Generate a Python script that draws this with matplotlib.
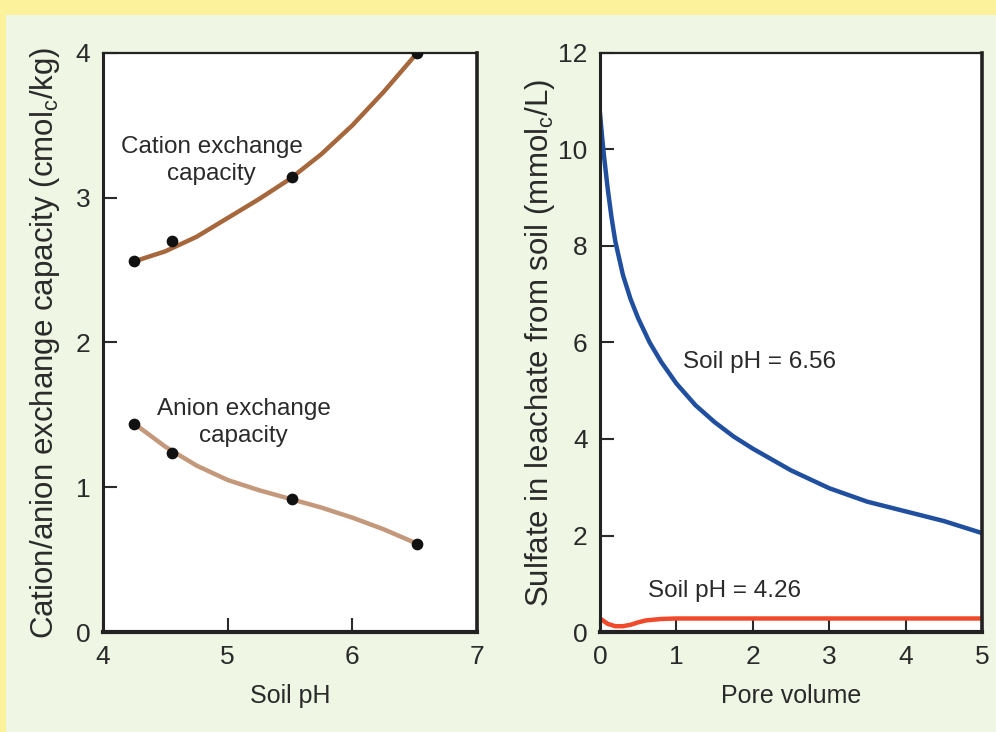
import numpy as np
import matplotlib.pyplot as plt
from matplotlib.patches import Rectangle

# left panel: exchange capacity vs soil pH
ph_points = [4.25, 4.55, 5.52, 6.52]
cec_points = [2.56, 2.70, 3.14, 4.00]
aec_points = [1.44, 1.24, 0.92, 0.61]

ph_curve = [4.25, 4.5, 4.75, 5.0, 5.25, 5.5, 5.75, 6.0, 6.25, 6.52]
cec_curve = [2.56, 2.63, 2.73, 2.86, 2.99, 3.13, 3.30, 3.50, 3.73, 4.00]
aec_curve = [1.44, 1.28, 1.15, 1.05, 0.98, 0.92, 0.86, 0.79, 0.71, 0.61]

# right panel: sulfate in leachate vs pore volume
pore_hi = [0, 0.025, 0.05, 0.1, 0.15, 0.2, 0.3, 0.4, 0.5, 0.65, 0.8, 1.0,
           1.25, 1.5, 1.75, 2.0, 2.5, 3.0, 3.5, 4.0, 4.5, 5.0]
sulfate_hi = [10.75, 10.3, 9.9, 9.2, 8.6, 8.1, 7.4, 6.9, 6.5, 6.0, 5.6, 5.15,
              4.7, 4.35, 4.05, 3.8, 3.35, 2.98, 2.7, 2.5, 2.3, 2.05]
pore_lo = [0, 0.1, 0.2, 0.3, 0.4, 0.5, 0.6, 0.8, 1.0, 2.0, 3.0, 4.0, 5.0]
sulfate_lo = [0.28, 0.17, 0.12, 0.12, 0.15, 0.2, 0.24, 0.27, 0.28, 0.28,
              0.28, 0.28, 0.28]

plt.rcParams['font.family'] = ['Liberation Sans', 'DejaVu Sans']
txt = '#2a2a2a'

fig = plt.figure(figsize=(9.96, 7.32), dpi=100, facecolor='#fbf29b')
fig.patches.append(Rectangle((6 / 996, 0), 1, (732 - 15) / 732,
                             transform=fig.transFigure, facecolor='#eff6e4',
                             edgecolor='none', zorder=-5))

ax1 = fig.add_axes([103 / 996, 100 / 732, 374 / 996, 579 / 732])
ax2 = fig.add_axes([600 / 996, 100 / 732, 382 / 996, 579 / 732])

for ax in (ax1, ax2):
    ax.set_facecolor('white')
    ax.spines['left'].set_linewidth(2.2)
    ax.spines['bottom'].set_linewidth(3)
    ax.spines['right'].set_linewidth(2.6)
    ax.spines['top'].set_linewidth(1.6)
    for sp in ax.spines.values():
        sp.set_color('#222222')
    ax.tick_params(direction='in', length=10, width=1.5, labelsize=19,
                   colors=txt, pad=9)

# left
ax1.plot(ph_curve, cec_curve, color='#a5673b', lw=3.2, zorder=2)
ax1.plot(ph_curve, aec_curve, color='#c4987a', lw=3.2, zorder=2)
ax1.scatter(ph_points, cec_points, s=55, color='#111111', zorder=3)
ax1.scatter(ph_points, aec_points, s=55, color='#111111', zorder=3)
ax1.set_xlim(4, 7)
ax1.set_ylim(0, 4)
ax1.set_xticks([4, 5, 6, 7])
ax1.set_yticks([0, 1, 2, 3, 4])
ax1.set_xlabel('Soil pH', fontsize=18, color=txt, labelpad=11)
ax1.set_ylabel('Cation/anion exchange capacity (cmol$_\\mathregular{c}$/kg)',
               fontsize=22.5, color=txt, labelpad=10)
ax1.text(4.87, 3.26, 'Cation exchange\ncapacity', ha='center', va='center',
         fontsize=17.5, color=txt, linespacing=1.3)
ax1.text(5.13, 1.45, 'Anion exchange\ncapacity', ha='center', va='center',
         fontsize=17.5, color=txt, linespacing=1.3)

# right
ax2.plot(pore_hi, sulfate_hi, color='#1f4f9e', lw=3.2, zorder=2)
ax2.plot(pore_lo, sulfate_lo, color='#f04a2a', lw=3.2, zorder=2)
ax2.set_xlim(0, 5)
ax2.set_ylim(0, 12)
ax2.set_xticks([0, 1, 2, 3, 4, 5])
ax2.set_yticks([0, 2, 4, 6, 8, 10, 12])
ax2.set_xlabel('Pore volume', fontsize=18, color=txt, labelpad=11)
ax2.set_ylabel('Sulfate in leachate from soil (mmol$_\\mathregular{c}$/L)',
               fontsize=22.5, color=txt, labelpad=1)
ax2.text(1.09, 5.6, 'Soil pH = 6.56', ha='left', va='center',
         fontsize=17.5, color=txt)
ax2.text(0.63, 0.85, 'Soil pH = 4.26', ha='left', va='center',
         fontsize=17.5, color=txt)

fig.savefig('out.png', dpi=100, facecolor=fig.get_facecolor())
